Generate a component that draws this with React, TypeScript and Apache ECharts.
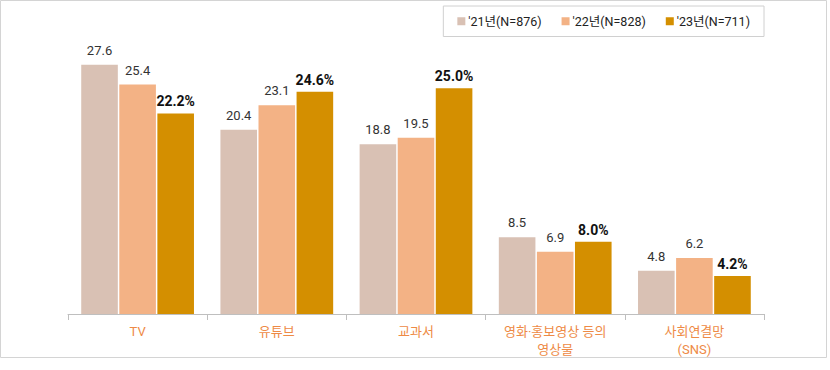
import React, { useEffect, useRef } from "react";
import * as echarts from "echarts";

const categories = ["TV", "유튜브", "교과서", "영화·홍보영상 등의\n영상물", "사회연결망\n(SNS)"];
const seriesNames = ["'21년(N=876)", "'22년(N=828)", "'23년(N=711)"];
const values21 = [27.6, 20.4, 18.8, 8.5, 4.8];
const values22 = [25.4, 23.1, 19.5, 6.9, 6.2];
const values23 = [22.2, 24.6, 25.0, 8.0, 4.2];

export default function App() {
  const ref = useRef<HTMLDivElement>(null);
  useEffect(() => {
    if (!ref.current) return;
    const chart = echarts.init(ref.current, null, { renderer: "svg" });
    const font = "Roboto, 'Noto Sans CJK KR', sans-serif";
    chart.setOption({
      animation: false,
      textStyle: { fontFamily: font },
      graphic: [
        {
          type: "rect",
          shape: { x: 0.5, y: 0.5, width: 826, height: 357 },
          style: { fill: "none", stroke: "#d4d4d4", lineWidth: 1 },
          silent: true,
        },
      ],
      legend: {
        data: [seriesNames[0], seriesNames[1], seriesNames[2]],
        right: 66,
        top: 6,
        itemWidth: 8,
        itemHeight: 8,
        itemGap: 20,
        padding: [9, 14, 9, 14],
        borderColor: "#d0d0d0",
        borderWidth: 1,
        icon: "rect",
        textStyle: { fontSize: 12.5, color: "#222", fontFamily: font, padding: [0, 0, 0, -2] },
      },
      grid: { left: 68, right: 66, top: 43, bottom: 56, containLabel: false },
      xAxis: {
        type: "category",
        data: categories,
        axisLine: { lineStyle: { color: "#bfbfbf" } },
        axisTick: { show: true, length: 6, lineStyle: { color: "#bfbfbf" } },
        axisLabel: { color: "#ee8a45", fontSize: 13, lineHeight: 18, margin: 8, interval: 0 },
      },
      yAxis: {
        type: "value",
        min: 0,
        max: 30,
        show: false,
        splitLine: { show: false },
      },
      series: [
        {
          name: seriesNames[0],
          type: "bar",
          data: values21,
          barGap: "4%",
          barCategoryGap: "19%",
          itemStyle: { color: "#d9c1b4" },
          label: { show: true, position: "top", distance: 8, color: "#333", fontSize: 13, formatter: (p: any) => p.value.toFixed(1) },
        },
        {
          name: seriesNames[1],
          type: "bar",
          data: values22,
          itemStyle: { color: "#f3b285" },
          label: { show: true, position: "top", distance: 8, color: "#333", fontSize: 13, formatter: (p: any) => p.value.toFixed(1) },
        },
        {
          name: seriesNames[2],
          type: "bar",
          data: values23,
          itemStyle: { color: "#d48f00" },
          label: { show: true, position: "top", distance: 5, color: "#111", fontSize: 14, fontWeight: "bold", formatter: (p: any) => p.value.toFixed(1) + "%" },
        },
      ],
    });
    return () => chart.dispose();
  }, []);
  return (
    <div
      ref={ref}
      style={{ position: "fixed", left: 0, top: 0, width: 830, height: 370, background: "#fff" }}
    />
  );
}
